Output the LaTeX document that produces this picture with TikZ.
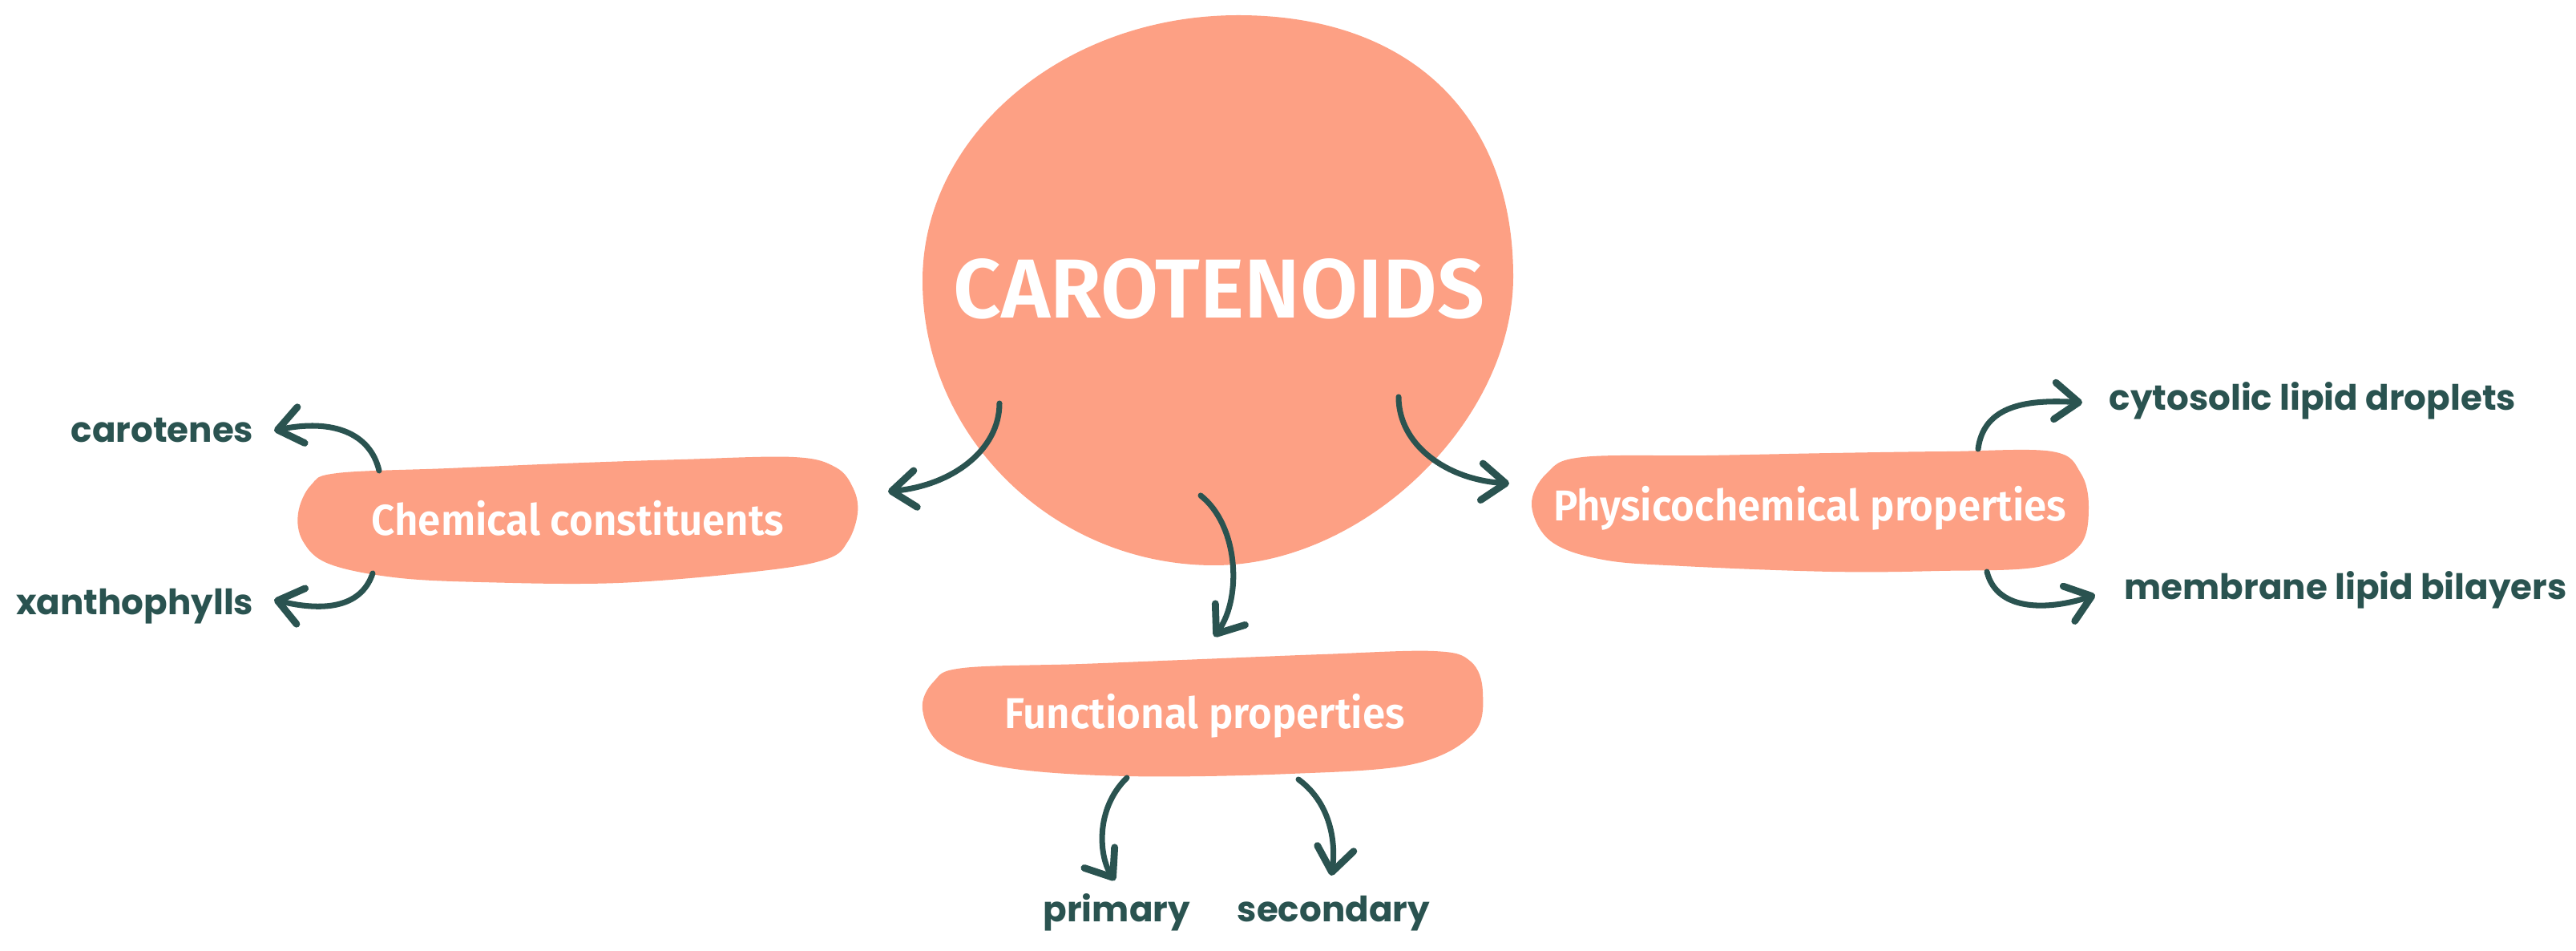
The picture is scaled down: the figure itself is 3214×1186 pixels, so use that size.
\documentclass[tikz,border=0pt]{standalone}
\usepackage{fontspec}
\usetikzlibrary{arrows.meta}
\newfontfamily\boxfont{Fira Sans SemiBold}[FakeStretch=0.95]
\newfontfamily\titlefont{Fira Sans SemiBold}
\newfontfamily\leaffont{Poppins Bold}
\definecolor{salmon}{HTML}{FDA084}
\definecolor{darkteal}{HTML}{2A5350}
\begin{document}
\begin{tikzpicture}[x=0.01cm,y=-0.01cm,
  blob/.style={fill=salmon,draw=none},
  conn/.style={draw=darkteal,line width=2pt,line cap=round,
    -{Straight Barb[length=8.5pt,width=13pt,line width=2.5pt,round]}},
  titlelabel/.style={inner sep=0pt,text=white,anchor=base,
    font=\titlefont\fontsize{29.7pt}{34pt}\selectfont},
  boxlabel/.style={inner sep=0pt,text=white,anchor=base,
    font=\boxfont\fontsize{15.3pt}{18pt}\selectfont},
  leaf/.style={inner sep=0pt,text=darkteal,
    font=\leaffont\fontsize{12.4pt}{15pt}\selectfont}]
\fill[white] (0,0) rectangle (3214,1186);
\useasboundingbox (0,0) rectangle (3214,1186);

% big blob
\fill[blob] (1888,345)
  .. controls (1888,525) and (1702,705) .. (1515,705)
  .. controls (1315,705) and (1151,545) .. (1151,350)
  .. controls (1151,168) and (1328,19) .. (1545,19)
  .. controls (1758,19) and (1888,143) .. (1888,345) -- cycle;

% chemical blob
\fill[blob] plot[smooth cycle,tension=0.6] coordinates {
 (421,590) (560,584) (702,578) (850,573) (990,570) (1043,583) (1065,610)
 (1070,640) (1058,675) (1032,697) (950,712) (772,727) (600,726)
 (491,720) (410,703) (378,675) (372,640) (388,605)};

% physicochemical blob
\fill[blob] plot[smooth cycle,tension=0.6] coordinates {
 (1975,570) (2130,568) (2285,565) (2430,563) (2560,563) (2596,590)
 (2606,633) (2595,680) (2543,707) (2420,712) (2285,713) (2100,706)
 (2000,698) (1935,675) (1911,630) (1930,590)};

% functional blob
\fill[blob] plot[smooth cycle,tension=0.6] coordinates {
 (1202,833) (1350,828) (1500,822) (1650,816) (1789,812) (1835,825)
 (1850,863) (1838,915) (1763,953) (1610,965) (1406,968) (1253,957)
 (1176,930) (1151,885) (1165,850)};

% labels
\node[titlelabel] (main) at (1521,397) {CAROTENOIDS};
\node[boxlabel] (chem) at (721,668) {Chemical constituents};
\node[boxlabel] (phys) at (2258,650) {Physicochemical properties};
\node[boxlabel] (func) at (1503,909) {Functional properties};

\node[leaf,anchor=base east] (car) at (317,552) {carotenes};
\node[leaf,anchor=base east] (xan) at (317,767) {xanthophylls};
\node[leaf,anchor=base west] (cyt) at (2631,512) {cytosolic lipid droplets};
\node[leaf,anchor=base west] (mem) at (2650,748) {membrane lipid bilayers};
\node[leaf,anchor=base west] (pri) at (1301,1150) {primary};
\node[leaf,anchor=base west] (sec) at (1543,1150) {secondary};

% connector ends
\coordinate (a1s) at (1247,503); \coordinate (a1e) at (1108,613);
\coordinate (a2s) at (1498,618); \coordinate (a2e) at (1515,794);
\coordinate (a3s) at (1745,495); \coordinate (a3e) at (1883,603);
\coordinate (a4s) at (473,587);  \coordinate (a4e) at (342,537);
\coordinate (a5s) at (465,715);  \coordinate (a5e) at (342,748);
\coordinate (a6s) at (2468,560); \coordinate (a6e) at (2598,502);
\coordinate (a7s) at (2479,713); \coordinate (a7e) at (2614,742);
\coordinate (a8s) at (1406,970); \coordinate (a8e) at (1391,1098);
\coordinate (a9s) at (1620,972); \coordinate (a9e) at (1661,1092);

\draw[conn] (a1s) .. controls (1247,560) and (1190,605) .. (a1e);
\draw[conn] (a2s) .. controls (1545,655) and (1550,745) .. (a2e);
\draw[conn] (a3s) .. controls (1745,555) and (1805,598) .. (a3e);
\draw[conn] (a4s) .. controls (462,540) and (415,522) .. (a4e);
\draw[conn] (a5s) .. controls (450,760) and (400,762) .. (a5e);
\draw[conn] (a6s) .. controls (2475,505) and (2530,498) .. (a6e);
\draw[conn] (a7s) .. controls (2492,765) and (2560,760) .. (a7e);
\draw[conn] (a8s) .. controls (1365,1010) and (1372,1070) .. (a8e);
\draw[conn] (a9s) .. controls (1665,1005) and (1666,1060) .. (a9e);
\end{tikzpicture}
\end{document}
